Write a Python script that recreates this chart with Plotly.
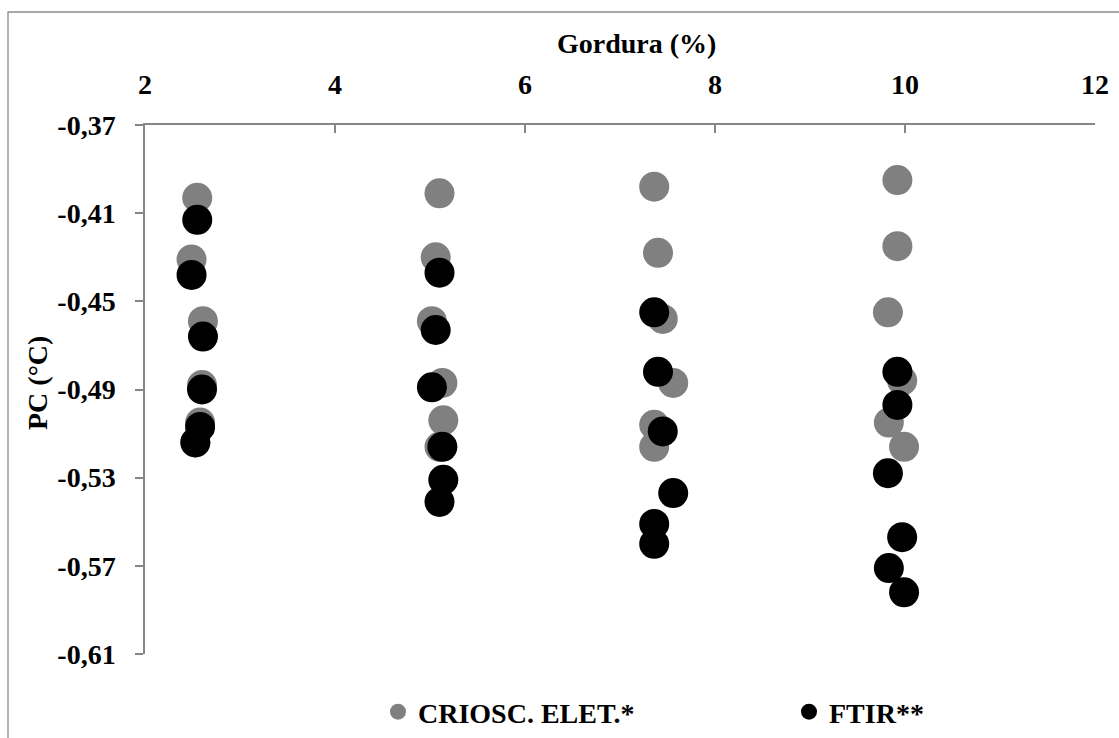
import plotly.graph_objects as go

# Fat content (%) of each sample and freezing point (PC, °C) by two methods
fat_pct = [2.55, 2.49, 2.61, 2.60, 2.58, 2.53,
           5.10, 5.06, 5.02, 5.13, 5.14, 5.10,
           7.36, 7.40, 7.45, 7.56, 7.36, 7.36,
           9.92, 9.92, 9.82, 9.97, 9.83, 9.99]
pc_crioscopio = [-0.403, -0.431, -0.459, -0.488, -0.505, -0.514,
                 -0.401, -0.430, -0.459, -0.487, -0.504, -0.516,
                 -0.398, -0.428, -0.458, -0.487, -0.506, -0.516,
                 -0.395, -0.425, -0.455, -0.486, -0.505, -0.516]
pc_ftir = [-0.413, -0.438, -0.466, -0.490, -0.507, -0.514,
           -0.437, -0.463, -0.489, -0.516, -0.531, -0.541,
           -0.455, -0.482, -0.509, -0.537, -0.551, -0.560,
           -0.482, -0.497, -0.528, -0.557, -0.571, -0.582]

series_names = ["CRIOSC. ELET.*", "FTIR**"]
x_ticks = [2, 4, 6, 8, 10, 12]
x_tick_labels = ["2", "4", "6", "8", "10", "12"]
y_ticks = [-0.37, -0.41, -0.45, -0.49, -0.53, -0.57, -0.61]
y_tick_labels = ["-0,37", "-0,41", "-0,45", "-0,49", "-0,53", "-0,57", "-0,61"]

FONT = "Liberation Serif"
AXIS_GRAY = "#868686"

fig = go.Figure()
fig.add_trace(go.Scatter(
    x=fat_pct, y=pc_crioscopio, mode="markers", name=series_names[0],
    marker=dict(size=30, color="#808080", line=dict(width=0)),
))
fig.add_trace(go.Scatter(
    x=fat_pct, y=pc_ftir, mode="markers", name=series_names[1],
    marker=dict(size=30, color="#000000", line=dict(width=0)),
))

W, H = 1119, 738
ML, MR, MT, MB = 145, 24, 125, 84
PW, PH = W - ML - MR, H - MT - MB


def px_x(p):
    return (p - ML) / PW


def px_y(p):
    return (H - MB - p) / PH


fig.update_layout(
    width=W, height=H,
    margin=dict(l=ML, r=MR, t=MT, b=MB, autoexpand=False),
    paper_bgcolor="white", plot_bgcolor="white",
    font=dict(family=FONT, size=28, color="black"),
    showlegend=True,
    legend=dict(
        orientation="h", x=px_x(378), xanchor="left",
        y=px_y(712), yanchor="middle",
        entrywidth=366, entrywidthmode="pixels",
        font=dict(family=FONT, size=28, color="black", weight="bold"),
        itemsizing="trace", bgcolor="rgba(0,0,0,0)",
    ),
    xaxis=dict(
        range=[2, 12], side="top", tickvals=x_ticks, ticktext=x_tick_labels,
        showline=True, linecolor=AXIS_GRAY, linewidth=1.5,
        ticks="inside", ticklen=8, tickwidth=1.5, tickcolor=AXIS_GRAY,
        showgrid=False, zeroline=False, ticklabelstandoff=18,
        tickfont=dict(family=FONT, size=28, color="black", weight="bold"),
    ),
    yaxis=dict(
        range=[-0.61, -0.37], tickvals=y_ticks, ticktext=y_tick_labels,
        showline=True, linecolor=AXIS_GRAY, linewidth=1.5,
        ticks="outside", ticklen=8, tickwidth=1.5, tickcolor=AXIS_GRAY,
        showgrid=False, zeroline=False, ticklabelstandoff=14,
        tickfont=dict(family=FONT, size=28, color="black", weight="bold"),
    ),
    shapes=[dict(
        type="rect", xref="paper", yref="paper",
        x0=px_x(8), x1=px_x(1125), y0=px_y(745), y1=px_y(12),
        line=dict(color="#8c8c8c", width=1.3), layer="below",
    )],
    annotations=[
        dict(text="<b>Gordura (%)</b>", xref="paper", yref="paper",
             x=px_x(636), y=px_y(43), xanchor="center", yanchor="middle",
             showarrow=False, font=dict(family=FONT, size=28, color="black")),
        dict(text="<b>PC (°C)</b>", xref="paper", yref="paper",
             x=px_x(37), y=px_y(383), xanchor="center", yanchor="middle",
             textangle=-90, showarrow=False,
             font=dict(family=FONT, size=28, color="black")),
    ],
)

fig.write_html("out.html")
